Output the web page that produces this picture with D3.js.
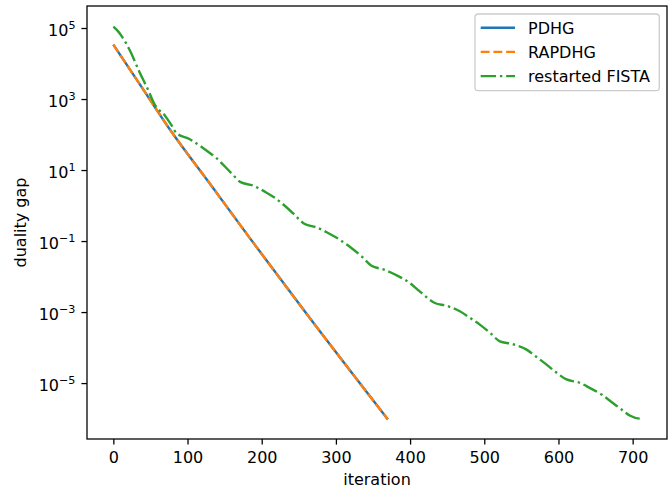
<!DOCTYPE html>
<html><head><meta charset="utf-8">
<script src="https://cdn.jsdelivr.net/npm/d3@7"></script>
<style>body{margin:0;background:#fff}svg{display:block;font-family:"DejaVu Sans",sans-serif}</style>
</head><body><svg id="c" width="670" height="493"></svg>
<script>
// ---- data ----
const pdhgIter   = [0, 40, 76, 130, 184, 262, 370];
const pdhgGap    = [3.39e4, 1.9e3, 141, 4.17, 0.121, 8.1e-4, 9.5e-7];
const rapdhgIter = [0, 40, 76, 130, 184, 262, 370];
const rapdhgGap  = [3.39e4, 1.9e3, 141, 4.17, 0.121, 8.1e-4, 9.5e-7];
const fistaIter  = [0, 5, 11, 22, 35, 47, 56, 62, 69, 74, 79, 85,
                    103, 121, 139, 159, 171.5, 188, 206, 220, 242, 258,
                    274, 290, 305, 320, 335, 348, 365, 382, 399, 413, 433.4,
                    449, 467, 481, 494, 508, 521, 537, 557, 568, 584, 595, 610,
                    629, 642, 658, 672, 685, 696, 710, 712];
const fistaGap   = [1.09e5, 8.7e4, 6.0e4, 2.4e4, 5.9e3, 1.78e3, 680, 480, 355, 250, 175, 110,
                    74, 41.7, 21.6, 8.2, 4.57, 3.66, 2.33, 1.52, 0.614, 0.301,
                    0.242, 0.166, 0.110, 0.066, 0.0363, 0.0202, 0.01567, 0.01084, 0.00673, 0.00382, 0.0018,
                    1.51e-3, 1.05e-3, 6.82e-4, 4.43e-4, 2.58e-4, 1.5e-4, 1.27e-4, 8.75e-5, 5.93e-5, 3.31e-5, 2.15e-5, 1.29e-5,
                    1.01e-5, 7.33e-6, 4.75e-6, 2.88e-6, 1.80e-6, 1.22e-6, 1.0e-6, 1.0e-6];
const seriesNames = ["PDHG", "RAPDHG", "restarted FISTA"];
const xTicks = [0, 100, 200, 300, 400, 500, 600, 700];
const yTickExps = [5, 3, 1, -1, -3, -5];
const xLabel = "iteration";
const yLabel = "duality gap";

// ---- layout ----
const L = 87, R = 667, T = 6, B = 439;
const FS = 16, LW = 2.4;
const colors = ["#1f77b4", "#ff7f0e", "#2ca02c"];
const dashes = [null, "8.88,3.84", "15.36,3.84,2.4,3.84"];

const svg = d3.select("#c");
const x = d3.scaleLinear().domain([-35.5, 746.3]).range([L, R]);
const y = d3.scaleLog().domain([Math.pow(10, -6.575), Math.pow(10, 5.62)]).range([B, T]);

const series = [
  {iter: pdhgIter, gap: pdhgGap},
  {iter: rapdhgIter, gap: rapdhgGap},
  {iter: fistaIter, gap: fistaGap}
];

const plot = svg.append("g");
const line = d3.line().x(d => x(d[0])).y(d => y(d[1])).curve(d3.curveMonotoneX);
series.forEach((s, i) => {
  const pts = s.iter.map((v, k) => [v, s.gap[k]]);
  plot.append("path").attr("d", line(pts)).attr("fill", "none")
    .attr("stroke", colors[i]).attr("stroke-width", LW)
    .attr("stroke-dasharray", dashes[i]).attr("stroke-linecap", "butt");
});

// axes
const xAxis = d3.axisBottom(x).tickValues(xTicks).tickSize(5.6).tickSizeOuter(0).tickPadding(5.6);
const gx = svg.append("g").attr("transform", `translate(0,${B})`).call(xAxis);
gx.select(".domain").remove();
gx.selectAll("line").attr("stroke", "#000").attr("stroke-width", 1.28);
gx.selectAll("text").attr("font-size", FS).attr("font-family", "DejaVu Sans").attr("fill", "#000")
  .attr("y", 24).attr("dy", null);

const yAxis = d3.axisLeft(y).tickValues(yTickExps.map(e => Math.pow(10, e))).tickSize(5.6).tickSizeOuter(0).tickFormat("");
const gy = svg.append("g").attr("transform", `translate(${L},0)`).call(yAxis);
gy.select(".domain").remove();
gy.selectAll("line").attr("stroke", "#000").attr("stroke-width", 1.28);
gy.selectAll(".tick").each(function(d) {
  const e = Math.round(Math.log10(d));
  const t = d3.select(this).select("text");
  t.text(null).attr("x", -11.5).attr("y", 7).attr("dy", null)
    .attr("text-anchor", "end").attr("font-family", "DejaVu Sans").attr("fill", "#000");
  t.append("tspan").attr("font-size", FS).text("10");
  t.append("tspan").attr("font-size", 11.2).attr("dy", -6.7).text(e < 0 ? "\u2212" + (-e) : String(e));
});

// frame
svg.append("rect").attr("x", L).attr("y", T).attr("width", R - L).attr("height", B - T)
  .attr("fill", "none").attr("stroke", "#000").attr("stroke-width", 1.28);

// labels
svg.append("text").attr("x", (L + R) / 2).attr("y", 485).attr("text-anchor", "middle")
  .attr("font-size", FS).text(xLabel);
svg.append("text").attr("transform", `translate(25.5,${(T + B) / 2}) rotate(-90)`)
  .attr("text-anchor", "middle").attr("font-size", FS).text(yLabel);

// legend
const lg = svg.append("g");
lg.append("rect").attr("x", 475).attr("y", 14).attr("width", 184.3).attr("height", 76.7)
  .attr("rx", 3.2).attr("fill", "#fff").attr("fill-opacity", 0.8)
  .attr("stroke", "#cccccc").attr("stroke-width", 1.28);
seriesNames.forEach((name, i) => {
  const cy = 27.7 + i * 24.2;
  lg.append("line").attr("x1", 480.7).attr("x2", 515).attr("y1", cy).attr("y2", cy)
    .attr("stroke", colors[i]).attr("stroke-width", LW).attr("stroke-dasharray", dashes[i]);
  lg.append("text").attr("x", 528).attr("y", cy + 5.8).attr("font-size", FS).text(name);
});
</script></body></html>
